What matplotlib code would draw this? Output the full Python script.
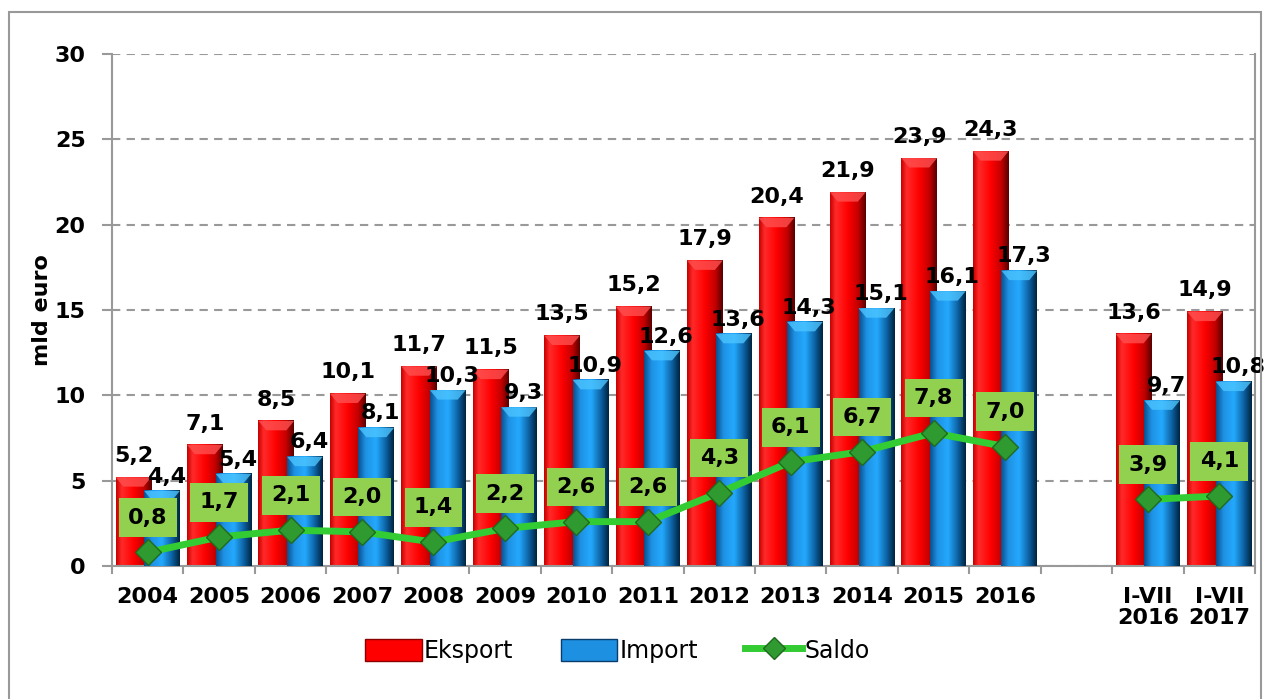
import numpy as np
import matplotlib
matplotlib.use('Agg')
import matplotlib.pyplot as plt
from matplotlib.colors import LinearSegmentedColormap
from matplotlib.patches import Rectangle, Polygon
from matplotlib.lines import Line2D

categories = ['2004', '2005', '2006', '2007', '2008', '2009', '2010', '2011',
              '2012', '2013', '2014', '2015', '2016', '', 'I-VII\n2016', 'I-VII\n2017']
# slot index of each data point (slot 13 is left empty)
slots = [0, 1, 2, 3, 4, 5, 6, 7, 8, 9, 10, 11, 12, 14, 15]
eksport = [5.2, 7.1, 8.5, 10.1, 11.7, 11.5, 13.5, 15.2, 17.9, 20.4, 21.9, 23.9, 24.3, 13.6, 14.9]
imp = [4.4, 5.4, 6.4, 8.1, 10.3, 9.3, 10.9, 12.6, 13.6, 14.3, 15.1, 16.1, 17.3, 9.7, 10.8]
saldo = [0.8, 1.7, 2.1, 2.0, 1.4, 2.2, 2.6, 2.6, 4.3, 6.1, 6.7, 7.8, 7.0, 3.9, 4.1]

plt.rcParams['font.family'] = ['DejaVu Sans']
FS = 16

red_cm = LinearSegmentedColormap.from_list('r', [(0, '#c80000'), (0.15, '#ff2a2a'), (0.5, '#ff0000'),
                                                 (0.8, '#c00000'), (1, '#5a0000')])
blue_cm = LinearSegmentedColormap.from_list('b', [(0, '#0a4f8f'), (0.2, '#1e90e2'), (0.5, '#24aaff'),
                                                  (0.8, '#0b5c9c'), (1, '#00243f')])
grad = np.linspace(0, 1, 64).reshape(1, -1)


def bar3d(ax, x, h, w, cmap, top, z):
    x0, x1 = x - w / 2, x + w / 2
    ax.imshow(grad, extent=[x0, x1, 0, h], aspect='auto', cmap=cmap,
              interpolation='bicubic', zorder=z)
    bev = 0.55
    ax.add_patch(Polygon([(x0, h), (x1, h), (x1 - w * 0.22, h - bev), (x0 + w * 0.22, h - bev)],
                         closed=True, facecolor=top, edgecolor='none', alpha=0.8, zorder=z + 0.1))


fig = plt.figure(figsize=(12.65, 6.99), dpi=100)
ax = fig.add_axes([112 / 1265, 1 - 566 / 699, (1255 - 112) / 1265, (566 - 54) / 699])

w = 0.5
for i, x in enumerate(slots):
    bar3d(ax, x - 0.2, eksport[i], w, red_cm, '#ff5050', 2)
    bar3d(ax, x + 0.2, imp[i], w, blue_cm, '#4cc4ff', 3)
    ax.annotate(f'{eksport[i]:.1f}'.replace('.', ','), (x - 0.2, eksport[i]),
                xytext=(0, 11), textcoords='offset points', ha='center', va='baseline',
                fontsize=FS, fontweight='heavy', zorder=7)
    ax.annotate(f'{imp[i]:.1f}'.replace('.', ','), (x + 0.2, imp[i]),
                xytext=(3, 6), textcoords='offset points', ha='center', va='baseline',
                fontsize=FS, fontweight='heavy', zorder=7)

for a, b in [(0, 13), (13, 15)]:
    ax.plot(slots[a:b], saldo[a:b], color='#33cc33', lw=5, zorder=5, solid_capstyle='round',
            marker='D', markersize=13, markerfacecolor='#2f9a2f', markeredgecolor='#1f6a1f',
            markeredgewidth=1)
for i, x in enumerate(slots):
    ax.annotate(f'{saldo[i]:.1f}'.replace('.', ','), (x, saldo[i]),
                xytext=(0, 25), textcoords='offset points', ha='center', va='center',
                fontsize=FS, fontweight='heavy', zorder=8,
                bbox=dict(boxstyle='square,pad=0.42', facecolor='#92d050', edgecolor='none'))

ax.set_xlim(-0.5, 15.5)
ax.set_ylim(0, 30)
ax.set_yticks(np.arange(0, 31, 5))
ax.set_xticks(range(len(categories)))
ax.set_xticklabels(categories, fontsize=FS, fontweight='heavy', linespacing=1.05)
ax.set_xticks(np.arange(-0.5, 16, 1), minor=True)
ax.tick_params(axis='x', which='major', length=0, pad=15)
ax.tick_params(axis='x', which='minor', length=6, color='#999999', width=1.5)
ax.tick_params(axis='y', length=7, color='#999999', width=1.5, pad=12, labelsize=FS)
for t in ax.get_yticklabels():
    t.set_fontweight('heavy')
ax.yaxis.grid(True, linestyle=(0, (4, 3)), color='#999999', lw=1.5, zorder=0)
ax.set_axisbelow(True)
for s in ['left', 'bottom', 'right']:
    ax.spines[s].set_color('#999999')
    ax.spines[s].set_linewidth(1.5)
ax.spines['top'].set_visible(False)
ax.set_ylabel('mld euro', fontsize=FS, fontweight='heavy', labelpad=2)

fig.patches.append(Rectangle((9 / 1265, -0.05), (1261 - 9) / 1265, 1 - 12 / 699 + 0.05,
                             transform=fig.transFigure, fill=False, edgecolor='#999999', lw=1.5))

handles = [Rectangle((0, 0), 1, 1, facecolor='#ff0000', edgecolor='#8b0000'),
           Rectangle((0, 0), 1, 1, facecolor='#1e90e2', edgecolor='#0a3d6b'),
           Line2D([], [], color='#33cc33', lw=5, marker='D', markersize=11,
                  markerfacecolor='#2f9a2f', markeredgecolor='#1f6a1f')]
fig.legend(handles, ['Eksport', 'Import', 'Saldo'], loc='center', bbox_to_anchor=(0.488, 0.069),
           ncol=3, frameon=False, fontsize=17, handlelength=2.4, handleheight=1.1,
           handletextpad=0.1, columnspacing=2.0)

fig.savefig('out.png', dpi=100)
